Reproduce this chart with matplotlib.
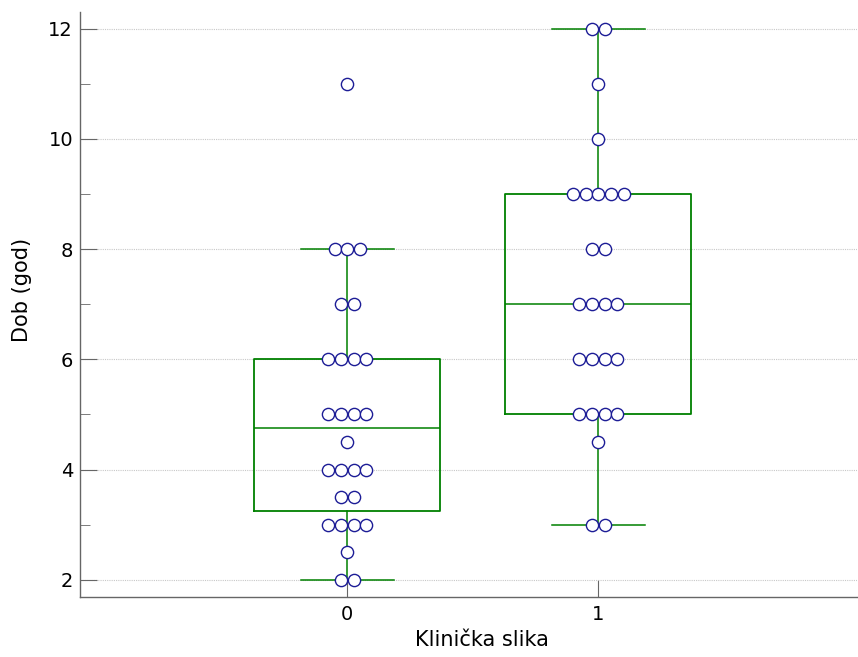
import numpy as np
import matplotlib.pyplot as plt

plt.rcParams['font.family'] = ['DejaVu Sans']

groups = [0, 1]
tick_labels = ['0', '1']

# ages per group (value, count)
vals0 = [2, 2.5, 3, 3.5, 4, 4.5, 5, 6, 7, 8, 11]
cnt0 = [2, 1, 4, 2, 4, 1, 4, 4, 2, 3, 1]
vals1 = [3, 4.5, 5, 6, 7, 8, 9, 10, 11, 12]
cnt1 = [2, 1, 4, 4, 4, 2, 5, 1, 1, 2]

# box statistics as shown
q1 = [3.25, 5]
med = [4.75, 7]
q3 = [6, 9]
whislo = [2, 3]
whishi = [8, 12]

green = '#008000'
navy = '#1c1c96'

fig = plt.figure(figsize=(8.58, 6.57), dpi=100)
ax = fig.add_axes([0.0932, 0.0913, 0.9058, 0.8905])

stats = []
for i in range(2):
    stats.append(dict(q1=q1[i], med=med[i], q3=q3[i], whislo=whislo[i],
                      whishi=whishi[i], fliers=[]))
ax.bxp(stats, positions=groups, widths=0.74, showfliers=False,
       boxprops=dict(color=green, lw=1.3),
       medianprops=dict(color=green, lw=1.1),
       whiskerprops=dict(color=green, lw=1.1),
       capprops=dict(color=green, lw=1.1),
       capwidths=0.37, manage_ticks=False)

step = 0.0506
for g, vals, cnt in [(0, vals0, cnt0), (1, vals1, cnt1)]:
    xs, ys = [], []
    for v, n in zip(vals, cnt):
        for k in range(n):
            xs.append(g + (k - (n - 1) / 2) * step)
            ys.append(v)
    ax.plot(xs, ys, 'o', ms=8.8, mfc='white', mec=navy, mew=1.0,
            linestyle='none', zorder=5)

ax.set_xlim(-1.064, 2.03)
ax.set_ylim(1.69, 12.3)
ax.set_xticks(groups)
ax.set_xticklabels(tick_labels)
ax.set_yticks([2, 4, 6, 8, 10, 12])
ax.set_yticks([3, 5, 7, 9, 11], minor=True)
ax.yaxis.grid(True, which='major', color='#c8c8c8', lw=0.8, ls=(0, (1, 1)))
ax.set_axisbelow(True)

for s in ['top', 'right']:
    ax.spines[s].set_visible(False)
for s in ['left', 'bottom']:
    ax.spines[s].set_color('#666666')
    ax.spines[s].set_linewidth(1.0)

ax.tick_params(axis='both', which='major', direction='in', length=12,
               color='#666666', labelsize=14, pad=5)
ax.tick_params(axis='y', which='minor', direction='in', length=7,
               color='#666666')
ax.tick_params(axis='x', pad=6)

ax.set_xlabel('Klinička slika', fontsize=15)
ax.set_ylabel('Dob (god)', fontsize=15)
ax.xaxis.set_label_coords(0.517, -0.0735)
ax.yaxis.set_label_coords(-0.0746, 0.525)
ax.xaxis.label.set_va('center')
ax.yaxis.label.set_va('center')

fig.savefig('out.png', dpi=100)
